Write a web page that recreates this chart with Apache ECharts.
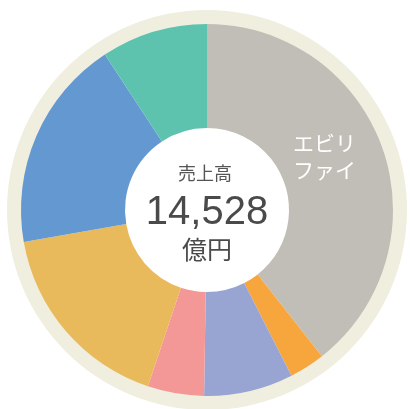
<!DOCTYPE html>
<html>
<head>
<meta charset="utf-8">
<script src="https://cdn.jsdelivr.net/npm/echarts@6/dist/echarts.min.js"></script>
<style>
  html, body { margin: 0; padding: 0; background: #fff; }
  #main { width: 410px; height: 409px; }
</style>
</head>
<body>
<div id="main"></div>
<script>
// 売上高の内訳（億円）- 図から読み取った値
const names = ['エビリファイ', 'その他1', 'その他2', 'その他3', 'その他4', 'その他5', 'その他6'];
const values = [5724, 450, 1126, 712, 2484, 2688, 1344];
const colors = ['#c1beb7', '#f7a63e', '#98a5d3', '#f39896', '#e9ba5b', '#6498d1', '#5dc3ae'];
const totalLabel = '14,528';

const chart = echarts.init(document.getElementById('main'));

const seriesData = names.map((n, i) => ({
    name: n,
    value: values[i],
    itemStyle: { color: colors[i] },
    label: { show: i === 0 }
}));

const jp = '"Noto Sans CJK JP", sans-serif';

chart.setOption({
    animation: false,
    series: [
        {
            // 外側のベージュの輪
            type: 'pie',
            silent: true,
            center: [207, 210],
            radius: [184, 200],
            label: { show: false },
            data: [{ value: 1, itemStyle: { color: '#f0eede' } }]
        },
        {
            type: 'pie',
            center: [207, 210],
            radius: [82, 186],
            startAngle: 90,
            clockwise: true,
            label: {
                position: 'inside',
                formatter: 'エビリ\nファイ',
                color: '#fff',
                fontFamily: jp,
                fontSize: 21,
                lineHeight: 27
            },
            labelLayout: { dx: -12, dy: -9 },
            labelLine: { show: false },
            data: seriesData
        }
    ],
    graphic: [
        {
            type: 'text',
            left: 'center',
            top: 164,
            style: { text: '売上高', font: '18px ' + jp, fill: '#555' }
        },
        {
            type: 'text',
            x: 207,
            y: 213,
            style: {
                text: totalLabel,
                font: '40px "Liberation Sans", Arial, sans-serif',
                fill: '#4a4a4a',
                align: 'center',
                verticalAlign: 'middle'
            }
        },
        {
            type: 'text',
            x: 207,
            y: 249,
            style: {
                text: '億円',
                font: '25px ' + jp,
                fill: '#4a4a4a',
                align: 'center',
                verticalAlign: 'middle'
            }
        }
    ]
});
</script>
</body>
</html>
